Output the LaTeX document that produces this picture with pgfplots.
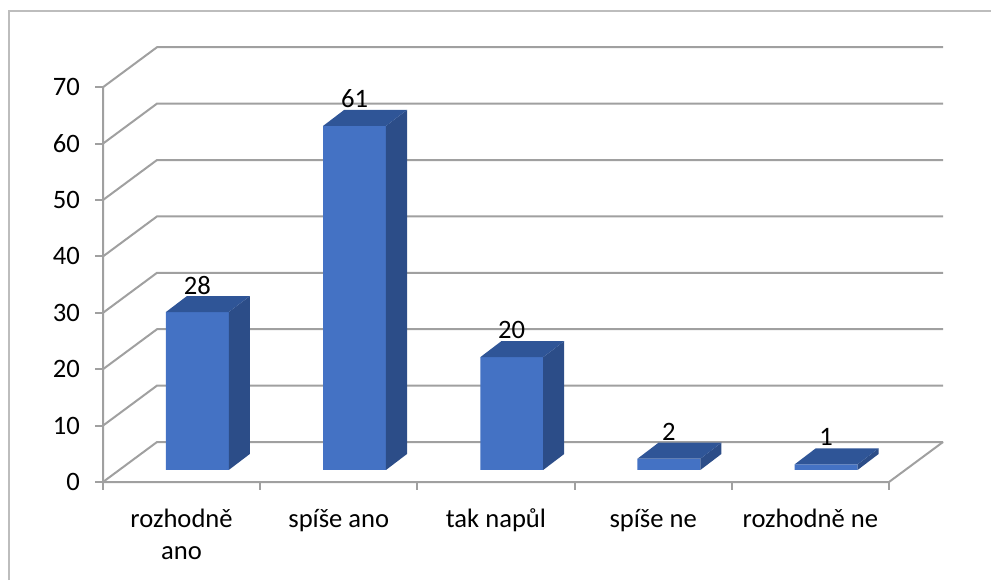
\documentclass[border=0pt]{standalone}
\usepackage{pgfplots}
\pgfplotsset{compat=1.18}
\usepackage{pgfplotstable}
\usepackage{fontspec}
\setmainfont{Carlito}
\definecolor{frontcol}{HTML}{4472C4}
\definecolor{topcol}{HTML}{2F5597}
\definecolor{sidecol}{HTML}{2C4D88}
\definecolor{gridgrey}{HTML}{A0A0A0}
\definecolor{framegrey}{HTML}{BDBDBD}
\newcommand\lblfont{\fontsize{13.3}{16}\selectfont}
\pgfplotstableread{
cat v
0 28
1 61
2 20
3 2
4 1
}\datatable
% back wall / side wall grid line for value #1
\newcommand\wallline[1]{%
  \pgfmathsetmacro\ya{#1-2.13}\pgfmathsetmacro\yb{#1+4.96}%
  \edef\tmp{\noexpand\draw[gridgrey,line width=1pt] (axis cs:0,\ya) -- (axis cs:0.3435,\yb) -- (axis cs:5.3435,\yb);}\tmp}
% side and top faces of bar #1, height read from the table
\newcommand\barfaces[1]{%
  \pgfplotstablegetelem{#1}{v}\of\datatable
  \pgfmathsetmacro\xl{#1+0.4}\pgfmathsetmacro\xr{#1+0.8}%
  \pgfmathsetmacro\xbr{#1+0.934}\pgfmathsetmacro\xbl{#1+0.534}%
  \pgfmathsetmacro\vt{\pgfplotsretval}\pgfmathsetmacro\vb{\pgfplotsretval+2.84}%
  \edef\tmp{\noexpand\fill[sidecol] (axis cs:\xr,0) -- (axis cs:\xbr,2.84) -- (axis cs:\xbr,\vb) -- (axis cs:\xr,\vt) -- cycle;
  \noexpand\fill[topcol] (axis cs:\xl,\vt) -- (axis cs:\xr,\vt) -- (axis cs:\xbr,\vb) -- (axis cs:\xbl,\vb) -- cycle;}\tmp}
\begin{document}
\begin{tikzpicture}
\useasboundingbox (0,0) rectangle (495.5pt,290pt);
\draw[framegrey, line width=0.75pt] (4.5pt,0) -- (4.5pt,284.5pt) -- (495.5pt,284.5pt);
\begin{axis}[
  at={(51.5pt,49pt)}, anchor=south west,
  x=78.6pt, y=2.82pt,
  xmin=0, xmax=5.3435, ymin=-2.13, ymax=75,
  clip=false,
  axis lines=left,
  axis line style={draw=none},
  /pgf/number format/assume math mode=true,
  xtick={0.5,1.5,2.5,3.5,4.5},
  xticklabels={{rozhodně\\ano},{spíše ano},{tak napůl},{spíše ne},{rozhodně ne}},
  xticklabel style={align=center, font=\lblfont, yshift=-6pt},
  xtick style={draw=none},
  ytick={-2.13,7.87,17.87,27.87,37.87,47.87,57.87,67.87},
  yticklabels={0,10,20,30,40,50,60,70},
  yticklabel style={font=\lblfont, xshift=-4pt},
  tick align=outside,
  major tick length=4pt,
  ytick style={draw=gridgrey, line width=1pt},
]
\pgfplotsinvokeforeach{0,10,20,30,40,50,60,70}{\wallline{#1}}
\draw[gridgrey,line width=1pt] (axis cs:0,67.87) -- (axis cs:0,-2.13) -- (axis cs:5,-2.13) -- (axis cs:5.3435,4.96);
\pgfplotsinvokeforeach{0,1,2,3,4,5}{\draw[gridgrey,line width=1pt] (axis cs:#1,-2.13) -- ++(0pt,-4pt);}
\addplot[ybar, bar width=0.4, fill=frontcol, draw=none,
  nodes near coords,
  nodes near coords style={font=\lblfont, anchor=center, yshift=13.5pt, text=black}]
  table[x expr=\coordindex+0.6, y=v] {\datatable};
\pgfplotsinvokeforeach{0,1,2,3,4}{\barfaces{#1}}
\end{axis}
\end{tikzpicture}
\end{document}
